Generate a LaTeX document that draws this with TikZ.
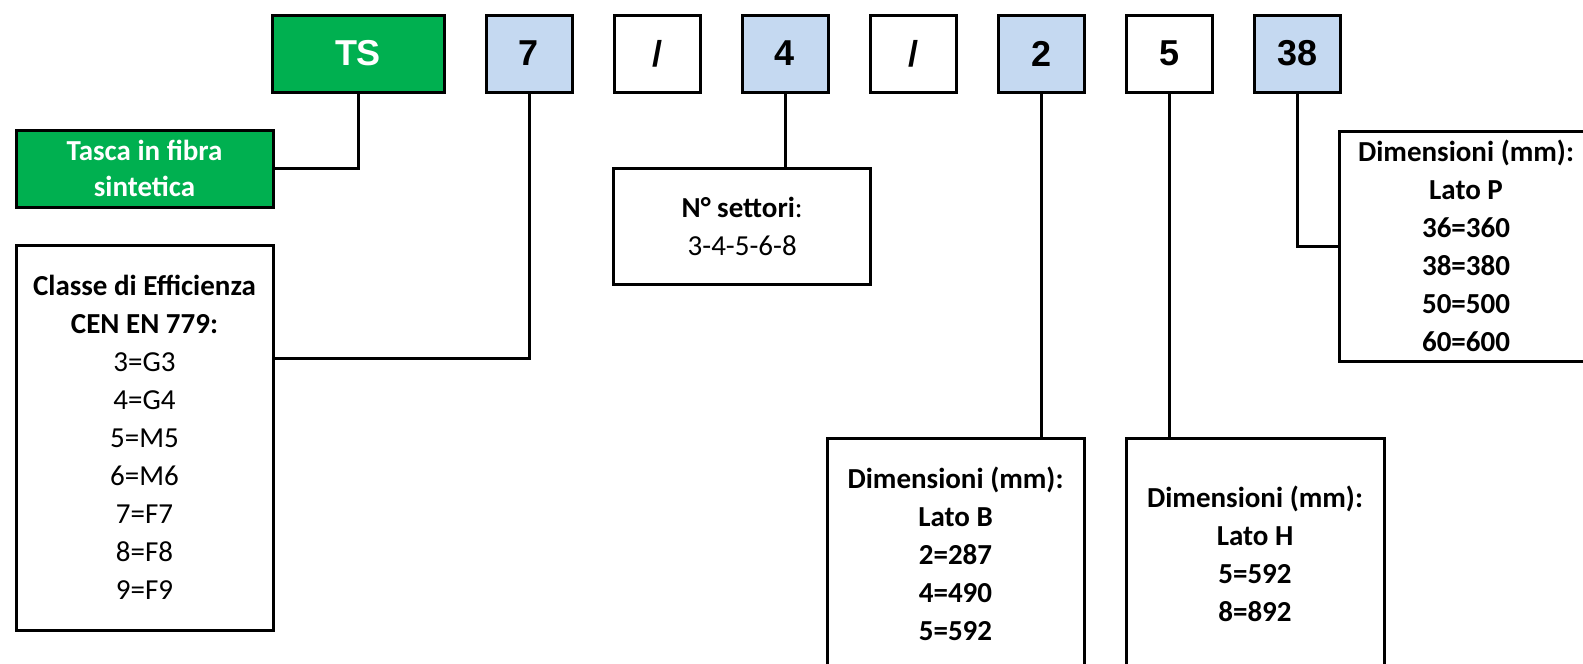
\documentclass[tikz,border=0pt]{standalone}
\usepackage{fontspec}
\setmainfont{Carlito}
\newfontfamily\arialfont{Liberation Sans}
\definecolor{xlgreen}{HTML}{00B050}
\definecolor{xlblue}{HTML}{C5D9F1}
\begin{document}
\begin{tikzpicture}[x=1pt,y=-1pt,
  codebox/.style={draw=black, line width=3pt, inner sep=0pt, minimum width=86, minimum height=77,
    font=\arialfont\bfseries\fontsize{36}{40}\selectfont},
  infobox/.style={draw=black, line width=3pt, inner sep=0pt, align=center,
    font=\fontsize{29}{38}\selectfont},
  conn/.style={draw=black, line width=3pt}]
\useasboundingbox (0,0) rectangle (1583,664);
\begin{scope}
\clip (0,0) rectangle (1583,664);
% code boxes
\node[codebox, fill=xlgreen, text=white, minimum width=172] (ts) at (358,53.5) {TS};
\node[codebox, fill=xlblue] (c7) at (529,53.5) {7};
\node[codebox, fill=white] (s1) at (657,53.5) {/};
\node[codebox, fill=xlblue] (c4) at (785,53.5) {4};
\node[codebox, fill=white] (s2) at (913,53.5) {/};
\node[codebox, fill=xlblue] (c2) at (1041.5,53.5) {2};
\node[codebox, fill=white] (c5) at (1169.5,53.5) {5};
\node[codebox, fill=xlblue] (c38) at (1297.5,53.5) {38};
% info boxes
\node[infobox, fill=xlgreen, text=white, minimum width=257, minimum height=77,
  font=\bfseries\fontsize{29}{36}\selectfont] (green) at (144.5,168.5)
  {Tasca in fibra\\sintetica};
\node[infobox, minimum width=257, minimum height=385] (classe) at (144.5,437.5)
  {\textbf{Classe di Efficienza}\\\textbf{CEN EN 779:}\\3=G3\\4=G4\\5=M5\\6=M6\\7=F7\\8=F8\\9=F9};
\node[infobox, minimum width=257, minimum height=116] (sett) at (742.2,226)
  {\textbf{N° settori}:\\3-4-5-6-8};
\node[infobox, minimum width=254, minimum height=230, font=\bfseries\fontsize{29}{38}\selectfont] (lp) at (1466,246)
  {Dimensioni (mm):\\Lato P\\36=360\\38=380\\50=500\\60=600};
\node[infobox, minimum width=257, minimum height=232, font=\bfseries\fontsize{29}{38}\selectfont] (lb) at (955.5,554)
  {Dimensioni (mm):\\Lato B\\2=287\\4=490\\5=592};
\node[infobox, minimum width=258, minimum height=232, font=\bfseries\fontsize{29}{38}\selectfont] (lh) at (1255,554)
  {Dimensioni (mm):\\Lato H\\5=592\\8=892};
% connectors
\draw[conn] (ts.south) |- (green.east);
\draw[conn] (c7.south) |- ([yshift=-115pt]classe.north east);
\draw[conn] (c4.south) -- (c4.south |- sett.north);
\draw[conn] (c2.south) -- (c2.south |- lb.north);
\draw[conn] (c5.south) -- (c5.south |- lh.north);
\draw[conn] (c38.south) |- (lp.west);
\end{scope}
\end{tikzpicture}
\end{document}
